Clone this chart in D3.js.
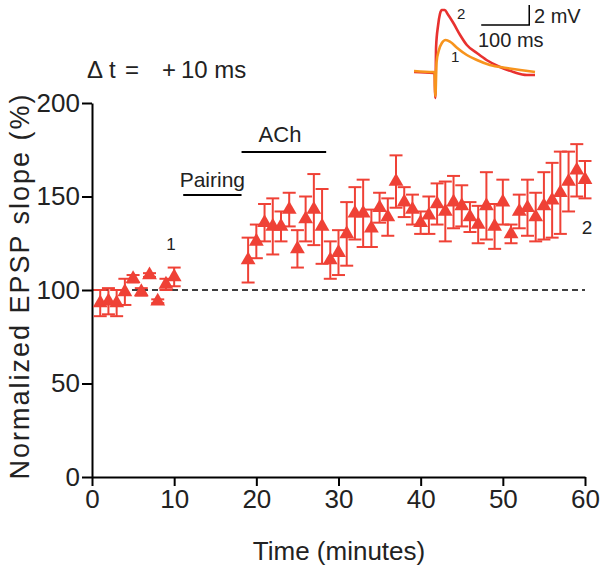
<!DOCTYPE html>
<html>
<head>
<meta charset="utf-8" />
<style>
body {
	margin: 0;
	font-family: "Liberation Sans", Arial, Helvetica;
	background: white;
}
svg {
	display: block;
}
.axis path, .axis line {
	stroke: black;
	stroke-width: 2;
}
.axis text {
	font-size: 26px;
	fill: #222;
	font-family: "Liberation Sans", Arial, Helvetica;
}
.axis-title {
	font-size: 26px;
	fill: #222;
	text-anchor: middle;
}
.note {
	fill: #222;
}
</style>
</head>
<body>
<script src="https://cdn.jsdelivr.net/npm/d3@7"></script>
<script>
// baseline before pairing (minutes, % slope, sem)
var baseTime = [1, 2, 3, 4, 5, 6, 7, 8, 9, 10];
var baseSlope = [93, 94, 93, 99, 106, 99, 108, 94, 103, 107];
var baseErr = [7, 7, 7, 7, 2, 2, 1, 1, 3, 5];

// after pairing + ACh
var postTime = [19, 20, 21, 22, 23, 24, 25, 26, 27, 28, 29, 30, 31, 32, 33, 34, 35, 36, 37, 38, 39,
    40, 41, 42, 43, 44, 45, 46, 47, 48, 49, 50, 51, 52, 53, 54, 55, 56, 57, 58, 59, 60];
var postSlope = [116, 126, 136, 134, 134, 143, 122, 138, 143, 134, 116, 120, 130, 141, 141, 133, 144, 139, 158, 147, 143,
    136, 140, 146, 142, 147, 145, 139, 135, 145, 134, 147, 130, 142, 144, 139, 145, 148, 152, 158, 164, 159];
var postErr = [12, 9, 10, 15, 8, 9, 10, 12, 19, 20, 10, 12, 17, 14, 18, 10, 8, 10, 14, 8, 8,
    6, 10, 11, 16, 14, 11, 8, 10, 18, 12, 12, 5, 9, 15, 13, 18, 20, 22, 16, 14, 10];

var xTicks = [0, 10, 20, 30, 40, 50, 60];
var yTicks = [0, 50, 100, 150, 200];

var pairingPeriod = [11.1, 18.2];
var achPeriod = [18.2, 28.5];

// inset EPSP traces (ms, mV)
var trace1Time = [0, 40, 43, 44, 44.5, 47, 52, 58, 66, 76, 90, 110, 131, 158, 193, 221, 252];
var trace1mV = [0.1, 0, 0, -2.4, -2.4, 1.0, 2.2, 2.9, 3.2, 3.0, 2.4, 1.7, 1.2, 0.7, 0.4, 0.2, 0.0];
var trace2Time = [0, 40, 43, 44, 44.5, 46, 50, 54, 58, 64, 70, 82, 96, 110, 131, 151, 179, 207, 235, 252];
var trace2mV = [0, -0.1, -0.2, -2.6, -2.6, 2.5, 4.6, 5.8, 6.2, 6.2, 5.8, 4.9, 3.7, 2.7, 1.9, 1.2, 0.5, 0, -0.3, -0.3];

var red = "#ef4136";

var svg = d3.select("body").append("svg")
	.attr("width", 600)
	.attr("height", 575);

var x = d3.scaleLinear().domain([0, 60]).range([92, 585]);
var y = d3.scaleLinear().domain([0, 200]).range([477, 103]);

svg.append("g")
	.attr("class", "axis")
	.attr("transform", "translate(0,477)")
	.call(d3.axisBottom(x).tickValues(xTicks).tickSize(9).tickSizeOuter(0).tickPadding(4));

svg.append("g")
	.attr("class", "axis")
	.attr("transform", "translate(92,0)")
	.call(d3.axisLeft(y).tickValues(yTicks).tickSize(10).tickSizeOuter(0).tickPadding(2));

svg.selectAll(".axis text").attr("fill", "#222");

// dashed 100% line
svg.append("line")
	.attr("x1", x(0)).attr("x2", x(60))
	.attr("y1", y(100)).attr("y2", y(100))
	.attr("stroke", "black")
	.attr("stroke-width", 1.6)
	.attr("stroke-dasharray", "6,4");

var allPoints = [];
for (i = 0; i < baseTime.length; i++) {
	allPoints.push([baseTime[i], baseSlope[i], baseErr[i]]);
}
for (i = 0; i < postTime.length; i++) {
	allPoints.push([postTime[i], postSlope[i], postErr[i]]);
}

var errGroup = svg.append("g")
	.attr("stroke", red)
	.attr("stroke-width", 2)
	.attr("fill", "none");

allPoints.forEach(function(d) {
	var cx = x(d[0]);
	errGroup.append("line")
		.attr("x1", cx).attr("x2", cx)
		.attr("y1", y(d[1] - d[2])).attr("y2", y(d[1] + d[2]));
	errGroup.append("line")
		.attr("x1", cx - 6.5).attr("x2", cx + 6.5)
		.attr("y1", y(d[1] + d[2])).attr("y2", y(d[1] + d[2]));
	errGroup.append("line")
		.attr("x1", cx - 6.5).attr("x2", cx + 6.5)
		.attr("y1", y(d[1] - d[2])).attr("y2", y(d[1] - d[2]));
});

var tri = d3.symbol().type(d3.symbolTriangle).size(95);

svg.append("g")
	.selectAll("path")
	.data(allPoints)
	.enter().append("path")
	.attr("d", tri)
	.attr("fill", red)
	.attr("transform", function(d) { return "translate(" + x(d[0]) + "," + y(d[1]) + ")"; });

// axis titles
svg.append("text")
	.attr("class", "axis-title")
	.attr("x", 339)
	.attr("y", 560)
	.text("Time (minutes)");

svg.append("text")
	.attr("class", "axis-title")
	.attr("transform", "translate(29,286) rotate(-90)")
	.style("font-size", "27px")
	.attr("letter-spacing", 2)
	.text("Normalized EPSP slope (%)");

// pairing / ACh bars
svg.append("line")
	.attr("x1", x(pairingPeriod[0])).attr("x2", x(pairingPeriod[1]))
	.attr("y1", 195).attr("y2", 195)
	.attr("stroke", "black").attr("stroke-width", 2);
svg.append("text")
	.attr("class", "note")
	.attr("x", x((pairingPeriod[0] + pairingPeriod[1]) / 2))
	.attr("y", 187)
	.attr("text-anchor", "middle")
	.attr("font-size", 21)
	.text("Pairing");

svg.append("line")
	.attr("x1", x(achPeriod[0])).attr("x2", x(achPeriod[1]))
	.attr("y1", 152).attr("y2", 152)
	.attr("stroke", "black").attr("stroke-width", 2);
svg.append("text")
	.attr("class", "note")
	.attr("x", 280)
	.attr("y", 142)
	.attr("text-anchor", "middle")
	.attr("font-size", 22)
	.text("ACh");

svg.append("text")
	.attr("class", "note")
	.attr("x", 171).attr("y", 250)
	.attr("text-anchor", "middle")
	.attr("font-size", 17)
	.text("1");

svg.append("text")
	.attr("class", "note")
	.attr("x", 587).attr("y", 234)
	.attr("text-anchor", "middle")
	.attr("font-size", 19)
	.text("2");

// delta t label
var dt = svg.append("text")
	.attr("class", "note")
	.attr("y", 78)
	.attr("font-size", 24);
dt.append("tspan").attr("x", 87).text("\u0394");
dt.append("tspan").attr("x", 109).text("t");
dt.append("tspan").attr("x", 125).text("=");
dt.append("tspan").attr("x", 162).text("+");
dt.append("tspan").attr("x", 181).text("10 ms");

// inset traces
var ix = d3.scaleLinear().domain([0, 252]).range([414, 535]);
var iy = d3.scaleLinear().domain([0, 2]).range([72, 52]);

var traceLine = d3.line()
	.x(function(d) { return ix(d[0]); })
	.y(function(d) { return iy(d[1]); })
	.curve(d3.curveMonotoneX);

svg.append("path")
	.datum(d3.zip(trace2Time, trace2mV))
	.attr("d", traceLine)
	.attr("fill", "none")
	.attr("stroke", "#e8312f")
	.attr("stroke-width", 2.6);

svg.append("path")
	.datum(d3.zip(trace1Time, trace1mV))
	.attr("d", traceLine)
	.attr("fill", "none")
	.attr("stroke", "#f7941d")
	.attr("stroke-width", 2.6);

// scale bar: 100 ms, 2 mV
svg.append("path")
	.attr("d", "M" + ix(140) + "," + iy(4.7) + "H" + ix(240) + "V" + iy(6.7))
	.attr("fill", "none")
	.attr("stroke", "black")
	.attr("stroke-width", 1.5);

svg.append("text").attr("class", "note")
	.attr("x", 534).attr("y", 23).attr("font-size", 20).text("2 mV");
svg.append("text").attr("class", "note")
	.attr("x", 478).attr("y", 47).attr("font-size", 20).text("100 ms");
svg.append("text").attr("class", "note")
	.attr("x", 457).attr("y", 19).attr("font-size", 15).text("2");
svg.append("text").attr("class", "note")
	.attr("x", 451).attr("y", 62).attr("font-size", 15).text("1");

</script>
</body>
</html>
